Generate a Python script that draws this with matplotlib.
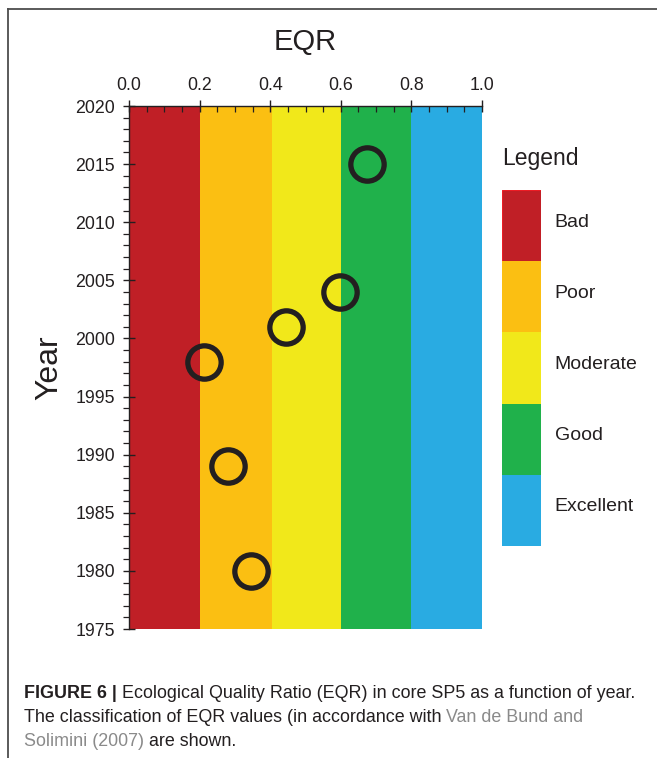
import matplotlib.pyplot as plt
from matplotlib.lines import Line2D

plt.rcParams['font.family'] = ['Liberation Sans', 'DejaVu Sans']

# EQR classes
class_names = ['Bad', 'Poor', 'Moderate', 'Good', 'Excellent']
class_edges = [0.0, 0.2, 0.405, 0.6, 0.8, 1.0]
class_colors = ['#C01F26', '#FBBF12', '#F1E81A', '#20B14B', '#29ABE2']

# EQR values per year in core SP5
years = [2015, 2004, 2001, 1998, 1989, 1980]
eqr = [0.674, 0.598, 0.445, 0.212, 0.280, 0.346]

x_ticks = [0.0, 0.2, 0.4, 0.6, 0.8, 1.0]
y_ticks = [1975, 1980, 1985, 1990, 1995, 2000, 2005, 2010, 2015, 2020]

TXT = '#231F20'
GREY = '#8a8a8a'

fig = plt.figure(figsize=(6.57, 7.58), dpi=100)

# frame lines around the figure panel
fig.add_artist(Line2D([8 / 657, 8 / 657], [0, 1 - 9 / 758], transform=fig.transFigure,
                      color='#4d4d4d', lw=1.3))
fig.add_artist(Line2D([8 / 657, 1], [1 - 9 / 758, 1 - 9 / 758], transform=fig.transFigure,
                      color='#4d4d4d', lw=1.3))

ax = fig.add_axes([129 / 657, 1 - 629 / 758, 353 / 657, 523 / 758])

for i, name in enumerate(class_names):
    left = class_edges[i]
    width = class_edges[i + 1] - left
    ec = '#ED1C24' if i == 0 else class_colors[i]
    ax.bar(left, 2020 - 1975, width=width, bottom=1975, align='edge',
           color=class_colors[i], edgecolor=ec, linewidth=0.8 if i == 0 else 0)

ax.plot(eqr, years, 'o', ms=24, mfc='none', mec=TXT, mew=3.8, zorder=5)

ax.set_xlim(0, 1)
ax.set_ylim(1975, 2020)
ax.set_xticks(x_ticks)
ax.set_xticklabels([f'{v:.1f}' for v in x_ticks])
ax.set_xticks([v / 20 for v in range(21)], minor=True)
ax.set_yticks(y_ticks)
ax.set_yticks(range(1975, 2021), minor=True)
ax.xaxis.tick_top()
ax.xaxis.set_label_position('top')

for s in ['bottom', 'right']:
    ax.spines[s].set_visible(False)
for s in ['top', 'left']:
    ax.spines[s].set_color(TXT)
    ax.spines[s].set_linewidth(1.0)
    ax.spines[s].set_zorder(6)

ax.tick_params(axis='x', which='major', direction='inout', length=8, width=1.0,
               colors=TXT, labelsize=12.8, pad=5)
ax.tick_params(axis='x', which='minor', direction='in', length=4, width=0.9, colors=TXT)
ax.tick_params(axis='y', which='major', direction='inout', length=8, width=1.0,
               colors=TXT, labelsize=12.8, pad=6)
ax.tick_params(axis='y', which='minor', direction='out', length=4, width=0.9, colors=TXT)
for t in ax.get_xticklabels() + ax.get_yticklabels():
    t.set_color(TXT)

ax.set_xlabel('EQR', fontsize=21, color=TXT, labelpad=19)
ax.set_ylabel('Year', fontsize=23, color=TXT, labelpad=8)

# legend drawn as a stacked column
lax = fig.add_axes([502 / 657, 1 - 546 / 758, 39 / 657, 356 / 758])
for i, name in enumerate(class_names):
    ec = '#ED1C24' if i == 0 else class_colors[i]
    lax.bar(0, 1, bottom=i, width=1, align='edge', color=class_colors[i],
            edgecolor=ec, linewidth=0.8 if i == 0 else 0)
    lax.text(1.35, i + 0.45, name, fontsize=14, color=TXT, va='center', ha='left',
             transform=lax.transData, clip_on=False)
lax.set_xlim(0, 1)
lax.set_ylim(len(class_names), 0)
lax.axis('off')
fig.text(502 / 657, 1 - 158 / 758, 'Legend', fontsize=16.5, color=TXT, va='center', ha='left')

# caption with mixed styles
cap_fs = 12.9
t1 = fig.text(24 / 657, 1 - 698 / 758, 'FIGURE 6 |', fontsize=cap_fs, fontweight='bold',
              color=TXT, va='baseline')
ax.annotate(' Ecological Quality Ratio (EQR) in core SP5 as a function of year.',
            xy=(1, 0), xycoords=t1, va='bottom', ha='left', fontsize=cap_fs, color=TXT,
            annotation_clip=False)
t2 = fig.text(24 / 657, 1 - 722 / 758, 'The classification of EQR values (in accordance with ',
              fontsize=cap_fs, color=TXT, va='baseline')
ax.annotate('Van de Bund and', xy=(1, 0), xycoords=t2, va='bottom', ha='left',
            fontsize=cap_fs, color=GREY, annotation_clip=False)
t3 = fig.text(24 / 657, 1 - 746 / 758, 'Solimini (2007)', fontsize=cap_fs, color=GREY,
              va='baseline')
ax.annotate(' are shown.', xy=(1, 0), xycoords=t3, va='bottom', ha='left',
            fontsize=cap_fs, color=TXT, annotation_clip=False)

fig.savefig('out.png', dpi=100)
